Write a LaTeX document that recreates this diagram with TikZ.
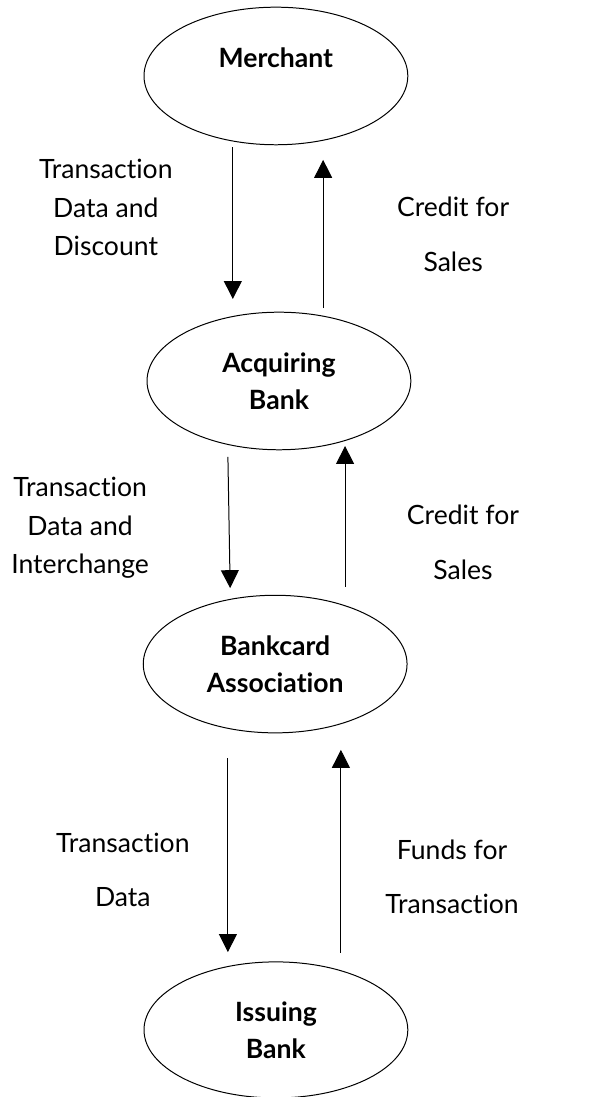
\documentclass[tikz,border=0pt]{standalone}
\usepackage{fontspec}
\setmainfont{Lato}[Ligatures=NoCommon]
\usetikzlibrary{shapes.geometric, arrows.meta}

\begin{document}
\begin{tikzpicture}[party/.style={ellipse, draw, line width=0.75pt, minimum width=6.98cm, minimum height=3.64cm, align=center, font=\fontsize{20}{28}\selectfont\bfseries},
    lbl/.style={align=center, font=\fontsize{20}{29}\selectfont},
    flow/.style={line width=0.75pt, -{Triangle[width=13.5pt, length=13.5pt]}}]
            \useasboundingbox (0,0) rectangle (16.007,-29.025);
            % the four parties
            \node[party] (merchant) at (7.30,-2.01) {Merchant\\\mbox{}};
            \node[party] (acquirer) at (7.38,-10.08) {Acquiring\\Bank};
            \node[party] (assoc) at (7.28,-17.57) {Bankcard\\Association};
            \node[party, minimum height=3.6cm] (issuer) at (7.30,-27.25) {Issuing\\Bank};
            % arrow ends
            \coordinate (m-out) at (6.16,-3.89);
            \coordinate (a-in) at (6.16,-7.91);
            \coordinate (a-out) at (8.55,-8.15);
            \coordinate (m-in) at (8.55,-4.23);
            \coordinate (a-out2) at (6.03,-12.09);
            \coordinate (b-in) at (6.09,-15.56);
            \coordinate (b-out) at (9.13,-15.53);
            \coordinate (a-in2) at (9.13,-11.80);
            \coordinate (b-out2) at (6.03,-20.06);
            \coordinate (i-in) at (6.03,-25.19);
            \coordinate (i-out) at (9.02,-25.21);
            \coordinate (b-in2) at (9.02,-19.84);
            \draw[flow] (m-out) -- (a-in);
            \draw[flow] (a-out) -- (m-in);
            \draw[flow] (a-out2) -- (b-in);
            \draw[flow] (b-out) -- (a-in2);
            \draw[flow] (b-out2) -- (i-in);
            \draw[flow] (i-out) -- (b-in2);
            % labels
            \node[lbl] (disc) at (2.80,-5.50) {Transaction\\Data and\\Discount};
            \node[lbl] (credit1) at (11.99,-6.20) {Credit for\\[12pt]Sales};
            \node[lbl] (inter) at (2.12,-13.97) {Transaction\\Data and\\Interchange};
            \node[lbl] (credit2) at (12.25,-14.35) {Credit for\\[12pt]Sales};
            \node[lbl] (data) at (3.25,-23.01) {Transaction\\[12pt]Data};
            \node[lbl] (funds) at (11.96,-23.20) {Funds for\\[12pt]Transaction};
        \end{tikzpicture}
\end{document}
